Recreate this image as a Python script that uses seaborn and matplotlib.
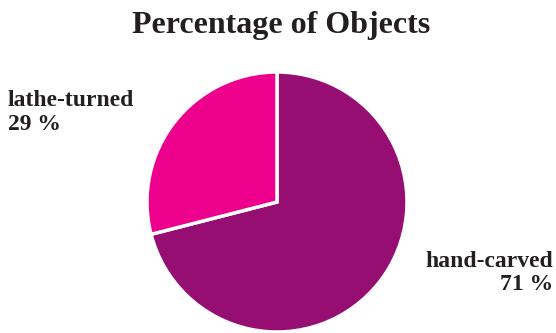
import matplotlib
matplotlib.use("Agg")
import matplotlib.pyplot as plt
import seaborn as sns

# data
categories = ["hand-carved", "lathe-turned"]
shares = [71, 29]
slice_colors = ["#970E73", "#EC008C"]

sns.set_theme(style="white")
plt.rcParams["font.family"] = ["Liberation Serif", "DejaVu Serif"]

W, H = 556, 333
fig = plt.figure(figsize=(W / 100, H / 100), dpi=100)

# pie centred at ~(277, 202) px with radius ~130 px
cx, cy, r = 277, 202, 130
ax = fig.add_axes([(cx - r) / W, 1 - (cy + r) / H, 2 * r / W, 2 * r / H])
ax.pie(
    shares,
    colors=slice_colors,
    startangle=90,
    counterclock=False,
    wedgeprops=dict(edgecolor="white", linewidth=2.5),
)
ax.set_xlim(-1, 1)
ax.set_ylim(-1, 1)
ax.set_aspect("equal")
ax.axis("off")

ink = "#231F20"
fig.text(281 / W, 1 - 33 / H, "Percentage of Objects", ha="center", va="baseline",
         fontsize=23, fontweight="bold", color=ink)

label_style = dict(fontsize=17, fontweight="bold", color=ink, va="baseline")
fig.text(8 / W, 1 - 106 / H, categories[1], ha="left", **label_style)
fig.text(8 / W, 1 - 130 / H, f"{shares[1]} %", ha="left", **label_style)
fig.text(553 / W, 1 - 267 / H, categories[0], ha="right", **label_style)
fig.text(553 / W, 1 - 290 / H, f"{shares[0]} %", ha="right", **label_style)

fig.savefig("out.png", dpi=100)
